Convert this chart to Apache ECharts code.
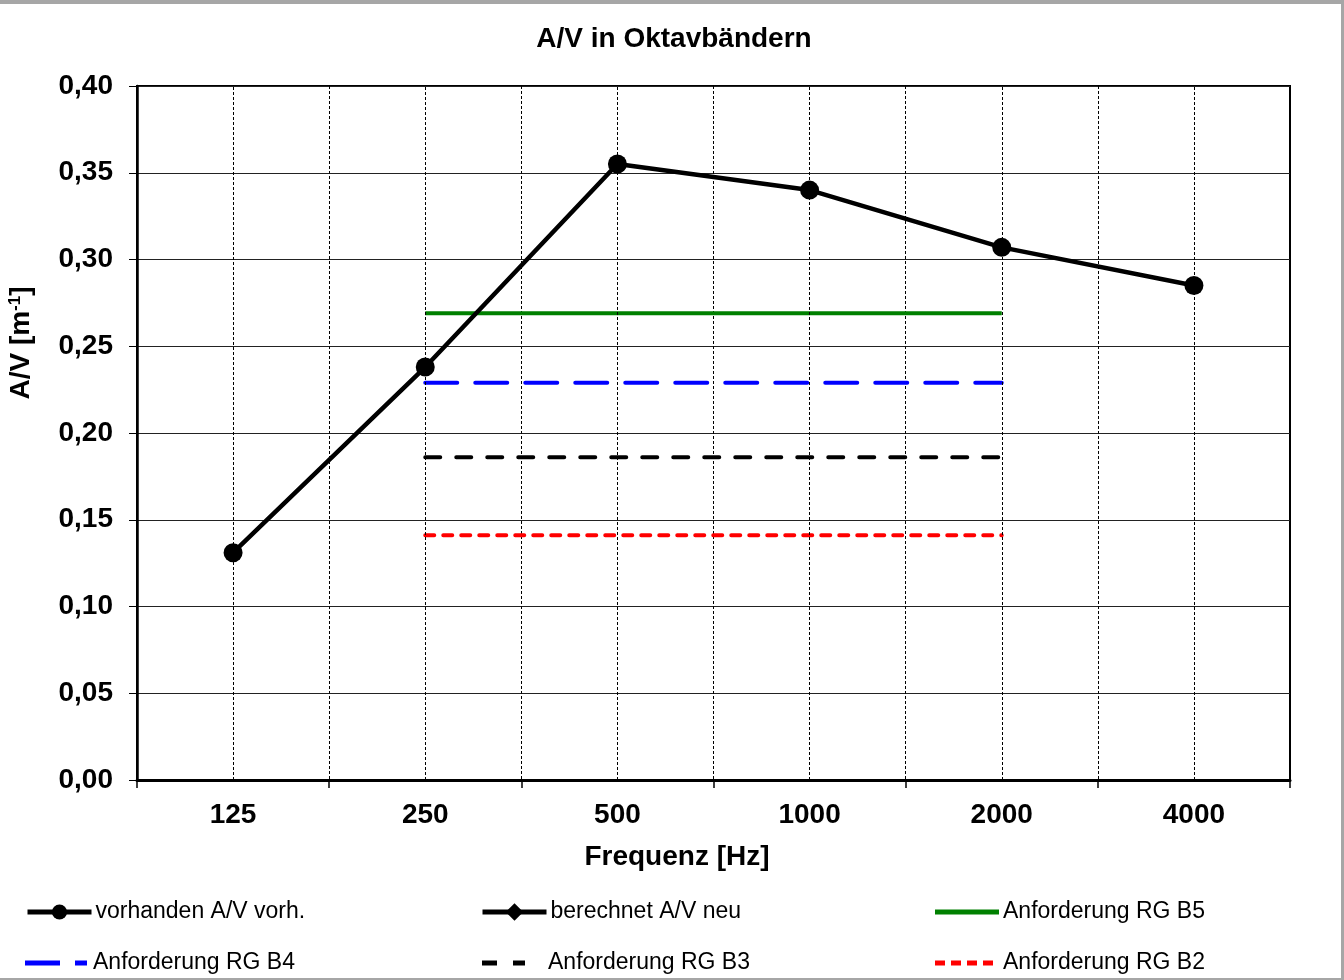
<!DOCTYPE html>
<html>
<head>
<meta charset="utf-8">
<script src="https://cdn.jsdelivr.net/npm/echarts@6/dist/echarts.min.js"></script>
<style>
html,body{margin:0;padding:0;background:#fff;}
#frame{position:absolute;left:0;top:0;width:1344px;height:980px;box-sizing:border-box;border-top:4px solid #a6a6a6;border-right:3px solid #a6a6a6;border-bottom:2px solid #a6a6a6;pointer-events:none;}
#chart{position:absolute;left:0;top:0;width:1344px;height:980px;}
</style>
</head>
<body>
<div id="chart"></div>
<div id="frame"></div>
<script>
const categories = ['125', '250', '500', '1000', '2000', '4000'];
const vorhanden = [0.131, 0.238, 0.355, 0.340, 0.307, 0.285];
const berechnet = [null, null, null, null, null, null];
const rgB5 = [null, 0.269, 0.269, 0.269, 0.269, null];
const rgB4 = [null, 0.229, 0.229, 0.229, 0.229, null];
const rgB3 = [null, 0.186, 0.186, 0.186, 0.186, null];
const rgB2 = [null, 0.141, 0.141, 0.141, 0.141, null];
const yTicks = { min: 0, max: 0.4, interval: 0.05 };

const FONT = '"Liberation Sans", Arial, sans-serif';
const chart = echarts.init(document.getElementById('chart'));

function legText(padLeft) {
  return { fontFamily: FONT, fontSize: 23, lineHeight: 24, color: '#000', padding: [0, 0, 0, padLeft] };
}
function legendLine(name, left, centerY, symH) {
  return {
    data: [name], left: left, top: centerY - 12, padding: 0,
    itemWidth: 64, itemHeight: symH, itemGap: 0,
    lineStyle: { width: 5 },
    textStyle: legText(-1), selectedMode: false
  };
}
function legendIcon(name, icon, color, left, centerY, width, padLeft) {
  return {
    data: [{ name: name, icon: icon, itemStyle: { color: color } }],
    left: left, top: centerY - 12, padding: 0,
    itemWidth: width, itemHeight: 5, itemGap: 0, symbolKeepAspect: false,
    textStyle: legText(padLeft), selectedMode: false
  };
}

chart.setOption({
  animation: false,
  textStyle: { fontFamily: FONT },
  grid: { left: 137, right: 54, top: 86, bottom: 200, show: true, borderColor: '#000', borderWidth: 2, containLabel: false },
  graphic: [
    { type: 'text', x: 674, y: 39, style: { text: 'A/V in Oktavbändern', font: 'bold 28px ' + FONT, fill: '#000', align: 'center', verticalAlign: 'middle' } },
    { type: 'text', x: 677, y: 857, style: { text: 'Frequenz [Hz]', font: 'bold 28px ' + FONT, fill: '#000', align: 'center', verticalAlign: 'middle' } },
    { type: 'text', x: 21, y: 343, rotation: Math.PI / 2,
      style: { text: 'A/V [m{sup|-1}]', align: 'center', verticalAlign: 'middle', fill: '#000', font: 'bold 28px ' + FONT,
        rich: { sup: { fontSize: 17, fontWeight: 'bold', fontFamily: FONT, verticalAlign: 'top', padding: [0, 0, 10, 0] } } } }
  ],
  legend: [
    legendLine('vorhanden A/V vorh.', 25, 912, 19),
    legendLine('berechnet A/V neu', 480, 912, 22),
    legendIcon('Anforderung RG B5', 'path://M0,0h64v5h-64z', '#008000', 935, 912, 64, -1),
    legendIcon('Anforderung RG B4', 'path://M0,0h35v5h-35z M50,0h12v5h-12z', '#0000ff', 25, 963, 62, 1),
    legendIcon('Anforderung RG B3', 'path://M0,0h15v5h-15z M31,0h12v5h-12z', '#000', 482, 963, 43, 18),
    legendIcon('Anforderung RG B2', 'path://M0,0h10v5h-10z M16,0h10v5h-10z M32,0h10v5h-10z M48,0h10v5h-10z', '#ff0000', 935, 963, 58, 5)
  ],
  xAxis: {
    type: 'category', data: categories, boundaryGap: true,
    axisLine: { lineStyle: { color: '#000', width: 3 } },
    axisTick: { show: true, length: 8, lineStyle: { color: '#000', width: 1.5 } },
    axisLabel: { color: '#000', fontSize: 28, fontWeight: 'bold', fontFamily: FONT, margin: 21 },
    splitLine: { show: true, lineStyle: { color: '#000', width: 1, type: [3, 2] } }
  },
  yAxis: {
    type: 'value', min: yTicks.min, max: yTicks.max, interval: yTicks.interval,
    axisLine: { show: true, lineStyle: { color: '#000', width: 2.5 } },
    axisTick: { show: true, length: 8, lineStyle: { color: '#000', width: 1 } },
    axisLabel: { color: '#000', fontSize: 28, fontWeight: 'bold', fontFamily: FONT, margin: 24,
      formatter: v => v.toFixed(2).replace('.', ',') },
    splitLine: { show: true, lineStyle: { color: '#222', width: 1.2 } }
  },
  series: [
    { name: 'grid-centers', type: 'line', data: [], z: 1, silent: true,
      markLine: { silent: true, symbol: 'none', label: { show: false },
        lineStyle: { color: '#000', width: 1, type: [3, 2] },
        emphasis: { disabled: true },
        data: categories.map(c => ({ xAxis: c })) } },
    { name: 'Anforderung RG B5', type: 'line', data: rgB5, symbol: 'none', z: 3,
      lineStyle: { color: '#008000', width: 4 }, itemStyle: { color: '#008000' } },
    { name: 'Anforderung RG B4', type: 'line', data: rgB4, symbol: 'none', z: 3,
      lineStyle: { color: '#0000ff', width: 4, type: [32, 18], cap: 'round' }, itemStyle: { color: '#0000ff' } },
    { name: 'Anforderung RG B3', type: 'line', data: rgB3, symbol: 'none', z: 3,
      lineStyle: { color: '#000', width: 4, type: [15, 16], cap: 'round' }, itemStyle: { color: '#000' } },
    { name: 'Anforderung RG B2', type: 'line', data: rgB2, symbol: 'none', z: 3,
      lineStyle: { color: '#ff0000', width: 4, type: [9, 9], cap: 'round' }, itemStyle: { color: '#ff0000' } },
    { name: 'berechnet A/V neu', type: 'line', data: berechnet, symbol: 'diamond', symbolSize: 14, z: 4,
      lineStyle: { color: '#000', width: 4.5 }, itemStyle: { color: '#000' } },
    { name: 'vorhanden A/V vorh.', type: 'line', data: vorhanden, symbol: 'circle', symbolSize: 19, z: 5,
      lineStyle: { color: '#000', width: 4.5 }, itemStyle: { color: '#000' } }
  ]
});
</script>
</body>
</html>
